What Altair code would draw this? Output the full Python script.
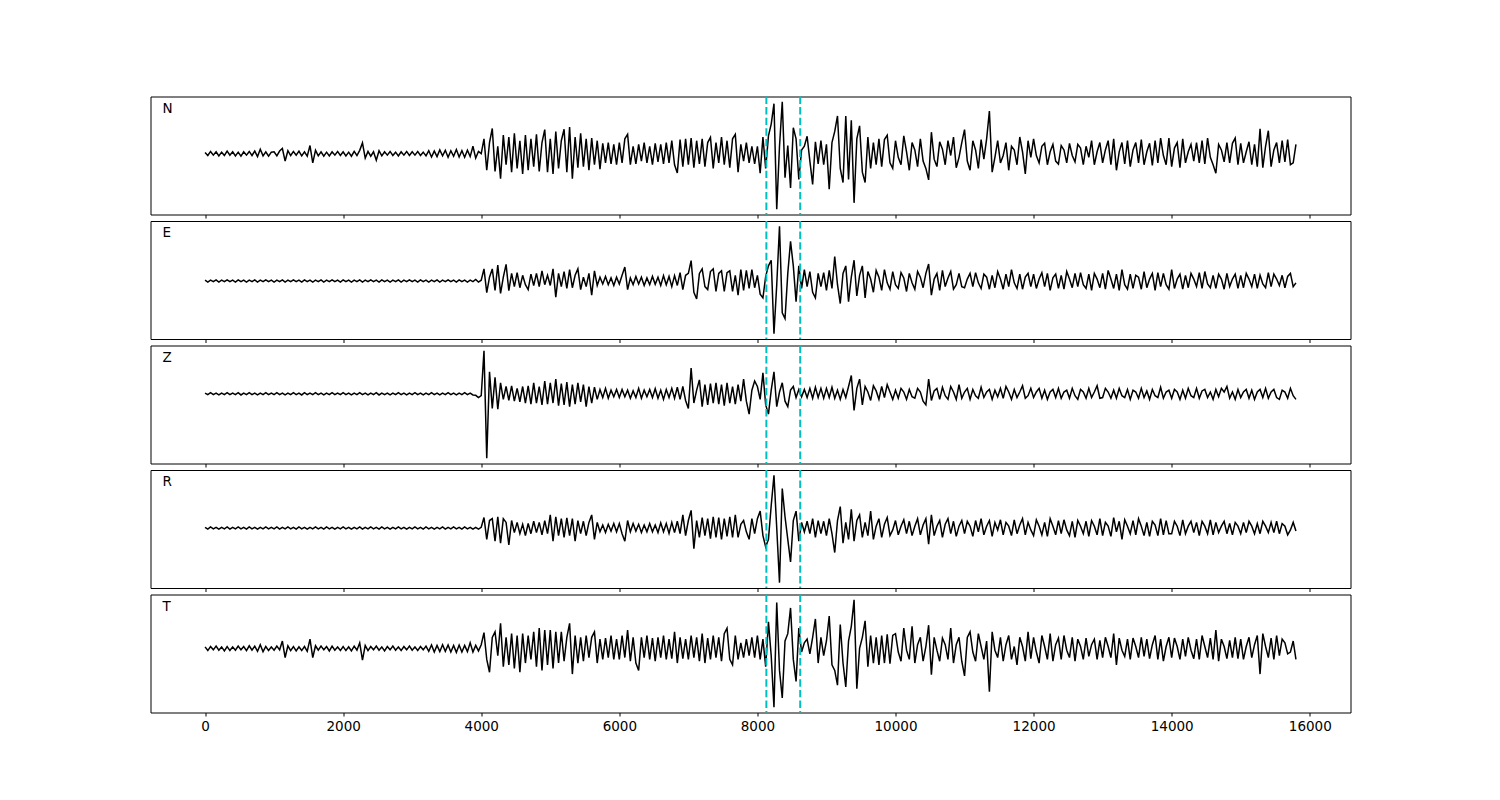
import altair as alt
import pandas as pd

# sample spacing of the traces (x units)
DT = 40

# amplitude readings (arbitrary units, up = positive), one row per 1000 x-units
N_VALUES = (
    [3, -5, 6, -4, 5, -6, 4, -5, 7, -4, 5, -6, 4, -7, 5, -4, 6, -5, 7, -8, 12, -6, 5, -7, 4]
    + [5, -6, 7, 14, -20, 8, -5, 6, -4, 7, -6, 5, -7, 22, -25, 9, -6, 5, -7, 4, -6, 5, -4, 6, -5]
    + [5, -6, 4, -7, 6, -5, 9, 29, -12, 6, -7, 5, -18, 8, -6, 5, -4, 6, -5, 4, -6, 5, -4, 6, -5]
    + [5, -4, 6, -5, 4, -6, 8, -9, 7, -8, 10, -6, 9, -10, 8, -7, 11, -9, 8, -10, 9, -8, 20, -12, 6]
    + [0, 40, -45, 30, 68, -48, 20, -68, 50, -30, 45, -50, 55, -40, 35, -55, 50, -45, 40, -35, 52, -48, 30, 65, -50]
    + [40, -55, 60, -40, 35, 66, -50, 72, -68, 45, -38, 55, -35, 40, -45, 42, -30, 35, -42, 28, -25, 30, -28, 25, -30]
    + [30, -25, 40, 52, -30, 20, -28, 25, -20, 30, -25, 20, -30, 28, -22, 25, -28, 30, -25, 35, -30, -52, 38, -35, 40]
    + [-30, 42, -38, 35, -28, 40, -35, 30, 44, -40, 30, -25, 45, -30, 35, -38, 40, 52, -50, 25, -20, 30, -25, 20, -28]
    + [20, -53, 45, -40, 48, 80, 135, -150, 20, 140, -65, 22, -93, 70, 40, -70, 10, 20, 47, -20, -83, 32, -28, 35, -30]
    + [25, -96, 30, 60, 102, -40, -78, 102, -70, 90, -133, 40, 75, -50, -78, 45, -40, 30, -30, 40, -35, 38, 50, -25, -40]
    + [35, -10, -30, 48, 5, -45, 30, 10, -35, 40, -20, -40, -71, 58, -15, -35, 32, 12, -30, 35, -5, 45, -38, -10, 30]
    + [65, -20, -45, 35, 10, -40, 38, -15, 40, 115, -50, -10, 35, -25, -5, 30, -45, 20, 10, -30, 45, 5, -55, 35, -10]
    + [40, -5, -25, 20, 28, -30, 5, 25, -20, -28, 22, 10, -25, 28, -5, -22, 25, 15, -30, 20, -10, 35, -30, 5, 30]
    + [-25, 10, 35, -30, 40, -45, 5, 30, -28, 35, -35, 10, 30, -25, 38, -30, 5, 28, -32, 35, -25, 42, -5, -30, 42]
    + [-35, 15, 30, -38, 40, -25, 5, 25, -20, 30, -25, 35, -28, 42, -10, -30, -53, 25, 10, -22, 30, -25, 28, 42, -30]
    + [28, -25, 5, 32, -30, 25, -35, 67, -38, 20, 62, -35, 10, 30, -25, 35, -22, 38, -30, -25, 25]
)

E_VALUES = (
    [2, -3, 2, -2, 3, -3, 2, -2, 3, -2, 2, -3, 3, -2, 2, -3, 2, -2, 3, -3, 2, -2, 3, -2, 2]
    + [-3, 2, -2, 3, -3, 2, -2, 3, -2, 2, -3, 3, -2, 2, -3, 2, -2, 3, -3, 2, -2, 3, -2, 2, -3]
    + [3, -2, 2, -3, 2, -2, 3, -3, 2, -2, 3, -2, 2, -3, 3, -2, 2, -3, 2, -2, 3, -3, 2, -2, 3]
    + [-2, 2, -3, 3, -2, 2, -3, 2, -2, 3, -3, 2, -2, 3, -2, 2, -3, 3, -2, 2, -3, 2, -2, 4, -3]
    + [2, 32, -31, 10, 32, -25, 42, -33, 10, 44, -26, 20, -15, 22, -18, 15, -10, -23, 18, -12, 20, -15, 27, -10, 15]
    + [-12, 32, -43, 20, -15, 25, -20, 30, -18, 15, 32, -23, 10, -15, 20, -38, 27, -12, 10, -8, 12, -10, 8, -12, 10]
    + [-8, 15, 37, -23, 8, -10, 12, -8, 10, -12, 8, -10, 12, -9, 10, -12, 14, -10, 12, -15, 14, -12, 22, -23, 15]
    + [20, 54, -30, -48, 20, 32, -15, -23, 25, 32, -28, 20, 27, -28, 22, 27, -28, 15, -38, 30, -25, 28, -20, 30, -18]
    + [15, -35, -45, 12, 40, 55, -140, -10, 145, -85, -100, 20, 105, 40, -55, 40, -20, 30, -15, 25, -30, -45, 20, -15, 22]
    + [-25, 28, -20, 65, -10, -60, 20, 40, -55, 10, 55, -40, 15, 40, -45, 25, 5, -30, 28, 10, -25, 30, -5, -22, 25]
    + [-10, -20, 22, 8, -28, 20, -5, -22, 25, 10, -18, 20, 45, -38, 5, 20, -25, 28, -15, 8, 25, -22, -10, 20, -15]
    + [-18, 5, 20, -15, 22, -5, -20, 18, 10, -22, 15, -18, 25, 5, -22, 18, -15, 30, -5, -20, 18, -22, 10, 20, -15]
    + [18, -20, 5, 22, -15, 20, -25, 8, 18, -20, 15, -22, 25, 5, -18, 20, -15, 22, -10, -20, 18, -25, 20, 5, -18]
    + [20, -22, 28, 5, -20, 18, -25, 30, -10, -22, 18, -20, 15, 10, -22, 25, -18, 5, 20, -25, 22, -15, 20, -10, -22]
    + [30, -20, 5, 18, -22, 15, -18, 20, 5, -15, 22, -20, 25, -8, -18, 15, -20, 18, 5, -22, 20, -15, 5, 18, -20]
    + [15, -18, 20, 5, -15, 18, -20, 15, -8, -18, 22, -15, 18, 5, -12, 15, -18, 12, 20, -15, -5]
)

Z_VALUES = (
    [2, -2, 3, -2, 2, -3, 2, -2, 3, -2, 2, -2, 3, -3, 2, -2, 3, -2, 2, -3, 2, -2, 3, -2, 2]
    + [-2, 3, -2, 2, -3, 2, -2, 3, -2, 2, -3, 3, -2, 2, -2, 3, -2, 2, -3, 2, -2, 3, -2, 2, -2]
    + [3, -2, 2, -3, 2, -2, 3, -2, 2, -3, 2, -2, 3, -3, 2, -2, 2, -3, 2, -2, 3, -2, 2, -3, 2]
    + [-2, 3, -2, 2, -3, 2, -2, 3, -2, 2, -3, 2, -2, 3, -2, 2, -3, 2, -2, 3, -2, 2, -3, -4, -10]
    + [-5, 117, -175, 60, -40, 45, -42, 30, -15, 20, -18, 22, -20, 15, -22, 20, -25, 22, -28, 30, -25, 20, -30, 35, -28]
    + [30, -25, 40, -32, 28, -30, 32, -35, 25, -28, 30, -22, 25, -35, 20, -25, 18, -15, 12, -10, 15, -12, 10, -8, 12]
    + [-10, 12, -8, 10, -12, 8, -10, 15, -12, 10, -8, 12, -10, 14, -12, 10, -15, 12, -10, 15, -12, 18, -15, 20, -18]
    + [-40, 70, -25, 10, 38, -35, 25, -30, 28, -25, 30, -28, 25, -32, 30, -25, 20, -28, 25, -20, 40, -20, -55, 10, 35]
    + [20, -15, 57, -30, -55, 10, 60, -35, 5, 30, -20, -35, 10, 20, -10, 12, -8, 12, -10, 15, -12, 18, -10, 15, -12]
    + [15, -10, 18, -12, 10, -15, 12, -10, 20, 50, -45, 15, 40, -30, 20, 5, -18, 22, 8, -15, 20, -10, 25, 5, -15]
    + [10, -12, 15, 5, -15, 12, -8, -12, 15, 5, -20, -30, 40, -18, 8, 15, -15, 18, -5, -15, 20, 5, -15, 25, -12]
    + [5, 15, -15, 12, -5, -12, 18, -10, 5, 12, -15, 10, -8, 15, -12, 20, 5, -15, 12, -10, 5, 22, -12, -5, 15]
    + [-10, 5, 15, -12, 10, -15, 5, 12, -10, 15, -12, 5, 10, -12, 15, -5, -15, 12, 5, -12, 15, -10, 5, 22, -12]
    + [-10, 15, 5, -12, 10, -12, 15, -5, -10, 12, -15, 10, 5, -12, 15, -10, 8, -15, 12, -5, -10, 18, -12, 5, 10]
    + [-12, 12, 5, -15, 10, -12, 15, -5, -10, 15, -12, 8, 12, -10, 5, -15, 12, -8, 15, 5, 20, -12, 5, -15, 12]
    + [-10, 5, 12, -12, 10, -15, 5, 12, -10, 15, -12, 5, 12, -10, -15, 10, 5, -12, 15, -5, -15]
)

R_VALUES = (
    [2, -3, 3, -2, 2, -3, 2, -2, 3, -3, 2, -2, 3, -2, 2, -3, 3, -2, 2, -3, 2, -2, 3, -2, 2]
    + [-2, 3, -3, 2, -2, 3, -2, 2, -3, 3, -2, 2, -3, 2, -2, 3, -2, 2, -3, 3, -2, 2, -3, 2, -2]
    + [3, -2, 2, -3, 2, -2, 3, -3, 2, -2, 3, -2, 2, -3, 3, -2, 2, -3, 2, -2, 3, -2, 2, -3, 2]
    + [-2, 3, -2, 2, -3, 3, -2, 2, -3, 2, -2, 3, -3, 2, -2, 3, -2, 2, -3, 3, -2, 2, -3, 2, -3]
    + [2, 28, -30, 20, 25, -35, 30, -40, 25, 15, -45, 20, -12, 15, -15, 10, -20, 12, -15, 18, -12, 15, -18, 20, -15]
    + [35, -35, 30, -20, 25, -25, 27, -20, 25, -35, 20, -15, 18, -20, 15, 35, -30, 15, -10, 8, -12, 10, -8, 12, -10]
    + [12, -15, -35, 20, -10, 12, -8, 10, -12, 8, -10, 12, -10, 8, -12, 14, -10, 12, -14, 15, -12, 18, -15, 35, -20]
    + [20, 47, -55, 20, -25, 28, -20, 25, -28, 30, -25, 28, -30, 25, -22, 30, -25, 35, -25, 10, 20, -10, -30, 25, -15]
    + [25, 45, -20, -50, -30, 60, 140, 0, -145, 105, 30, -30, -90, 20, 45, -35, 15, -10, 18, -15, 25, -25, 20, -15, 18]
    + [-20, 25, -15, -65, 20, 57, -40, 15, -30, 50, -35, 20, 35, -25, 15, -20, 45, -30, 5, 25, -25, 10, 28, -20, -5]
    + [20, -18, 5, 22, -15, 18, -20, 5, 25, -18, 8, 25, -43, 35, -20, 5, 20, -25, 10, 25, -15, 18, -22, 5, 20]
    + [-15, 18, 5, -22, 20, -10, 25, -18, 5, 20, -22, 15, -5, 22, -18, 15, 5, -20, 22, -15, 8, 25, -18, 15, -5]
    + [-20, 22, 5, -18, 15, -22, 25, 5, -18, 20, -15, 22, -5, -20, 18, -25, 20, 5, -15, 18, -22, 20, 5, -18, 25]
    + [-20, 15, 5, -22, 28, -10, 18, -30, 22, 5, -15, 20, -18, 25, 5, -20, 15, -22, 18, 8, -20, 25, -18, 20, -15]
    + [-15, 18, 5, -20, 22, -15, 5, 18, -12, 15, -20, 18, 5, -15, 22, -18, 15, -12, 5, 18, -15, 12, -18, 15, 5]
    + [-15, 15, -12, 18, 5, -15, 12, -15, 18, 5, -12, 15, -12, 18, -15, 12, 5, -18, -5, 15, -8]
)

T_VALUES = (
    [4, -6, 5, -4, 6, -5, 4, -7, 5, -6, 4, -5, 6, -4, 5, -6, 7, -5, 6, -8, 10, -9, 5, -6, 4]
    + [-5, 6, -4, 20, -25, 7, -6, 5, -7, 4, -6, 5, -8, 25, -25, 7, -5, 6, -4, 5, -7, 6, -5, 4, -6]
    + [5, -6, 4, -7, 6, -5, 15, -32, 8, -6, 5, -4, 6, -5, 4, -7, 5, -4, 6, -5, 4, -6, 5, -4, 6]
    + [-5, 4, -6, 5, -4, 6, -8, 9, -10, 8, -9, 10, -8, 9, -10, 8, -11, 9, -10, 8, -9, 15, -10, 8, -7]
    + [10, 43, -30, -65, 30, 45, -20, 68, -50, 30, -45, 40, -55, 35, -65, 40, -40, 35, -30, 45, -50, 55, -60, 50, -45]
    + [50, -55, 45, -40, 45, -35, 30, 68, -70, 35, -40, 30, -35, 35, -25, 30, 45, -40, 25, -30, 28, -25, 35, -30, 25]
    + [-30, 35, -25, 50, -35, 30, -40, -60, 30, -25, 35, -30, 28, -35, 30, -25, 35, -30, 25, -28, 45, -40, 30, -28, 25]
    + [-30, 35, -25, 30, -35, 40, -40, 28, -30, 35, -25, 30, -35, 40, 55, -30, -45, 35, -30, 15, -25, 25, -20, 30, -25]
    + [35, -30, 25, -50, 72, -20, -160, 125, -60, -135, 20, 40, 110, -30, -90, 55, -10, 15, 25, -15, 30, 80, -40, 30, -20]
    + [20, 88, -45, -60, -100, 65, -40, -105, 20, 60, 132, -110, 0, 30, 75, -50, 35, -40, 30, -45, 35, -40, 38, -42, 35]
    + [40, -10, -35, 55, -5, -30, 60, -40, 10, 30, -35, 5, 63, -72, 30, -5, -35, 28, 10, -30, 55, -40, 10, 30, -35]
    + [-75, 30, 45, -10, -35, 40, 5, -30, 20, -118, 45, -5, -25, 30, -35, 10, 35, -30, 5, -45, 30, 5, -35, 45, -28]
    + [30, -10, -40, 35, 5, -30, 40, -35, 10, 28, -30, 35, -5, -25, 30, -35, 25, 5, -30, 28, -22, 10, 25, -30, 22]
    + [-25, 30, 5, -25, 40, -45, 28, -5, -22, 25, -30, 28, 5, -25, 30, -22, 25, -28, 10, 35, -30, 25, -35, 5, 30]
    + [-25, 28, 5, -30, 25, -22, 30, -5, -28, 25, -30, 35, 5, -25, 28, -30, 50, -35, 25, 5, -28, 22, -25, 30, -28]
    + [25, -30, 5, 30, -25, 10, 35, -70, 40, 5, -25, 28, -30, 35, -20, 25, 15, -15, -10, 20, -30]
)

COMPONENTS = ["N", "E", "Z", "R", "T"]
SERIES = [N_VALUES, E_VALUES, Z_VALUES, R_VALUES, T_VALUES]
PICKS = [8130, 8620]
X_TICKS = [0, 2000, 4000, 6000, 8000, 10000, 12000, 14000, 16000]
X_DOMAIN = [-790, 16590]

FONT = "DejaVu Sans"
panels = []
for k, (name, vals) in enumerate(zip(COMPONENTS, SERIES)):
    df = pd.DataFrame({"t": [i * DT for i in range(len(vals))], "v": vals})
    lo, hi = min(vals), max(vals)
    pad = 0.05 * (hi - lo)
    last = k == len(COMPONENTS) - 1
    xaxis = alt.Axis(
        values=X_TICKS, labels=last, ticks=True, tickSize=3.5, tickWidth=1,
        tickColor="black", domain=False, grid=False, title=None,
        labelFont=FONT, labelFontSize=13.5, labelColor="black",
        labelPadding=3, format="d",
    )
    xenc = alt.X("t:Q", scale=alt.Scale(domain=X_DOMAIN, nice=False, zero=False), axis=xaxis)
    yenc = alt.Y("v:Q", scale=alt.Scale(domain=[lo - pad, hi + pad], nice=False, zero=False), axis=None)
    line = alt.Chart(df).mark_line(color="black", strokeWidth=1.5).encode(x=xenc, y=yenc)
    rules = alt.Chart(pd.DataFrame({"t": PICKS})).mark_rule(
        color="#00bfbf", strokeWidth=2, strokeDash=[7.4, 3.2]
    ).encode(x=xenc)
    label = alt.Chart(pd.DataFrame({"c": [name]})).mark_text(
        align="left", baseline="middle", fontSize=13.5, font=FONT, color="black"
    ).encode(text="c:N", x=alt.value(12), y=alt.value(12))
    panels.append(
        alt.layer(line, rules, label).properties(
            width=1200, height=118,
            view=alt.ViewBackground(stroke="black", strokeWidth=1),
        )
    )

chart = (
    alt.VConcatChart(vconcat=panels, spacing=6.5, bounds="flush")
    .properties(padding={"left": 141.5, "top": 86.5, "right": 10, "bottom": 10})
    .configure_view(stroke="black", strokeWidth=1)
    .configure(background="white")
)

chart.save("out.html", embed_options={"renderer": "svg", "actions": False})
